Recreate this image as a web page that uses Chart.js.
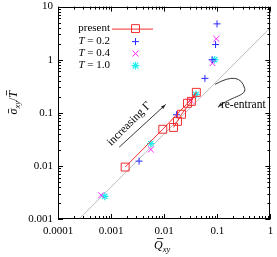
<!DOCTYPE html>
<html><head><meta charset="utf-8">
<script src="https://cdn.jsdelivr.net/npm/chart.js@4/dist/chart.umd.min.js"></script>
<style>html,body{margin:0;padding:0;background:#fff;}#wrap{width:277px;height:257px;}</style>
</head><body><div id="wrap"><canvas id="c" width="277" height="257"></canvas></div>
<script>
// ---- data ----
const seriesLabels = ['present', 'T = 0.2', 'T = 0.4', 'T = 1.0'];
const presentQ = [0.00184, 0.0094, 0.0274, 0.0403, 0.0325, 0.0212, 0.0178, 0.0150];
const presentS = [0.0095, 0.049, 0.151, 0.243, 0.164, 0.094, 0.069, 0.053];
const t02Q = [0.00336, 0.0171, 0.0585, 0.0798, 0.0927, 0.0989];
const t02S = [0.0123, 0.092, 0.445, 1.00, 1.93, 4.73];
const t04Q = [0.00065, 0.0056, 0.0316, 0.081, 0.096];
const t04S = [0.0028, 0.0204, 0.172, 0.861, 2.47];
const t10Q = [0.00076, 0.0056, 0.0397, 0.0895];
const t10S = [0.00267, 0.0264, 0.222, 1.00];
const refQ = [0.00025, 1];
const refS = [0.001, 4];
const xTicks = [0.0001, 0.001, 0.01, 0.1, 1];
const xTickLabels = ['0.0001', '0.001', '0.01', '0.1', '1'];
const yTicks = [0.001, 0.01, 0.1, 1, 10];
const yTickLabels = ['0.001', '0.01', '0.1', '1', '10'];
// annotation anchors in data space
const arrowGamma = [[0.00142, 0.0225], [0.0107, 0.144]];
const textGamma = {x: 0.00219, y: 0.0616, text: 'increasing Γ'};
const textReentrant = {x: 0.117, y: 0.138, text: 're-entrant'};
const reentrantCurve = [[0.0908, 0.343], [0.265, 0.629], [0.328, 0.288], [0.357, 0.204], [0.173, 0.204], [0.103, 0.127]];

const pts = (xs, ys) => xs.map((x, i) => ({x: x, y: ys[i]}));
const SERIF = '"Liberation Serif", "DejaVu Serif", serif';

const colors = {present: '#f03030', t02: '#2a2aff', t04: '#ff22ff', t10: '#22eeee'};

function arrowHead(ctx, x0, y0, x1, y1, len, half) {
  const a = Math.atan2(y1 - y0, x1 - x0);
  ctx.beginPath();
  ctx.moveTo(x1, y1);
  ctx.lineTo(x1 - len * Math.cos(a) + half * Math.sin(a), y1 - len * Math.sin(a) - half * Math.cos(a));
  ctx.lineTo(x1 - len * Math.cos(a) - half * Math.sin(a), y1 - len * Math.sin(a) + half * Math.cos(a));
  ctx.closePath();
  ctx.fill();
}

function drawParts(ctx, parts, x, y) {
  let w = 0;
  parts.forEach(p => { ctx.font = p.font; p.w = ctx.measureText(p.t).width; w += p.w; });
  let cx = x - w / 2;
  ctx.textBaseline = 'alphabetic';
  ctx.textAlign = 'left';
  parts.forEach(p => {
    ctx.font = p.font;
    ctx.fillText(p.t, cx, y + (p.dy || 0));
    if (p.bar) {
      ctx.beginPath();
      ctx.lineWidth = 0.8;
      ctx.moveTo(cx + p.w * 0.2 + (p.shift || 0), y - p.bar);
      ctx.lineTo(cx + p.w * 0.95 + (p.shift || 0), y - p.bar);
      ctx.stroke();
    }
    cx += p.w;
  });
}

const framePlugin = {
  id: 'frame',
  afterDatasetsDraw(chart) {
    const ctx = chart.ctx;
    const xs = chart.scales.x, ys = chart.scales.y;
    const a = chart.chartArea;
    ctx.save();
    ctx.strokeStyle = '#000';
    ctx.fillStyle = '#000';
    ctx.lineWidth = 1;
    ctx.strokeRect(Math.round(a.left) + 0.5, Math.round(a.top) + 0.5, Math.round(a.right - a.left) - 1, Math.round(a.bottom - a.top) - 1);
    ctx.beginPath();
    for (let d = Math.log10(xs.min); d < Math.log10(xs.max) + 0.01; d++) {
      for (let m = 1; m <= 9; m++) {
        const v = m * Math.pow(10, d);
        if (v > xs.max * 1.0001) break;
        const p = Math.round(xs.getPixelForValue(v)) + 0.5;
        const len = m === 1 ? 5 : 3;
        ctx.moveTo(p, a.bottom); ctx.lineTo(p, a.bottom - len);
        ctx.moveTo(p, a.top); ctx.lineTo(p, a.top + len);
      }
    }
    for (let d = Math.log10(ys.min); d < Math.log10(ys.max) + 0.01; d++) {
      for (let m = 1; m <= 9; m++) {
        const v = m * Math.pow(10, d);
        if (v > ys.max * 1.0001) break;
        const p = Math.round(ys.getPixelForValue(v)) + 0.5;
        const len = m === 1 ? 5 : 3;
        ctx.moveTo(a.left, p); ctx.lineTo(a.left + len, p);
        ctx.moveTo(a.right, p); ctx.lineTo(a.right - len, p);
      }
    }
    ctx.stroke();

    // increasing Gamma arrow
    const g0x = xs.getPixelForValue(arrowGamma[0][0]), g0y = ys.getPixelForValue(arrowGamma[0][1]);
    const g1x = xs.getPixelForValue(arrowGamma[1][0]), g1y = ys.getPixelForValue(arrowGamma[1][1]);
    ctx.strokeStyle = '#222'; ctx.fillStyle = '#222';
    ctx.lineWidth = 0.9;
    ctx.beginPath(); ctx.moveTo(g0x, g0y); ctx.lineTo(g1x, g1y); ctx.stroke();
    arrowHead(ctx, g0x, g0y, g1x, g1y, 5, 1.6);
    ctx.save();
    ctx.translate(xs.getPixelForValue(textGamma.x), ys.getPixelForValue(textGamma.y));
    ctx.rotate(-Math.PI / 4);
    ctx.font = '11.5px ' + SERIF;
    ctx.textAlign = 'center'; ctx.textBaseline = 'middle';
    ctx.fillStyle = '#000';
    ctx.fillText(textGamma.text, 0, 0);
    ctx.restore();

    // re-entrant curve
    const c = reentrantCurve.map(p => [xs.getPixelForValue(p[0]), ys.getPixelForValue(p[1])]);
    ctx.beginPath();
    ctx.moveTo(c[0][0], c[0][1]);
    ctx.quadraticCurveTo(c[1][0], c[1][1], c[2][0], c[2][1]);
    ctx.bezierCurveTo(c[3][0], c[3][1], c[4][0], c[4][1], c[5][0], c[5][1]);
    ctx.stroke();
    arrowHead(ctx, c[4][0], c[4][1], c[5][0], c[5][1], 5, 1.6);
    ctx.fillStyle = '#000';
    ctx.font = '11.5px ' + SERIF;
    ctx.textAlign = 'left'; ctx.textBaseline = 'middle';
    ctx.fillText(textReentrant.text, xs.getPixelForValue(textReentrant.x), ys.getPixelForValue(textReentrant.y));

    // legend
    const lx = a.left + 52, mx = a.left + 77.5;
    const rows = [a.top + 22, a.top + 35, a.top + 47, a.top + 59];
    chart.data.datasets.slice(0, 4).forEach((ds, i) => {
      const yy = rows[i];
      ctx.fillStyle = '#000';
      ctx.textBaseline = 'middle';
      ctx.textAlign = 'right';
      const label = ds.label;
      if (label.startsWith('T')) {
        ctx.font = '11px ' + SERIF;
        const rest = label.slice(1);
        const wr = ctx.measureText(rest).width;
        ctx.fillText(rest, lx, yy);
        ctx.font = 'italic 11px ' + SERIF;
        ctx.fillText('T', lx - wr, yy);
      } else {
        ctx.font = '11px ' + SERIF;
        ctx.fillText(label, lx, yy);
      }
      if (ds.showLine) {
        ctx.strokeStyle = ds.borderColor; ctx.lineWidth = 1;
        ctx.beginPath(); ctx.moveTo(a.left + 54, yy + 0.5); ctx.lineTo(a.left + 95, yy + 0.5); ctx.stroke();
      }
      ctx.strokeStyle = ds.pointBorderColor; ctx.fillStyle = 'rgba(0,0,0,0)';
      ctx.lineWidth = ds.pointBorderWidth;
      Chart.helpers.drawPoint(ctx, {pointStyle: ds.pointStyle, radius: ds.pointRadius, borderWidth: ds.pointBorderWidth, rotation: 0}, mx, yy);
    });

    // axis titles
    ctx.fillStyle = '#000'; ctx.strokeStyle = '#000';
    drawParts(ctx, [
      {t: 'Q', font: 'italic 12px ' + SERIF, bar: 10.5, shift: 1},
      {t: 'xy', font: 'italic 8.5px ' + SERIF, dy: 2.5}
    ], (a.left + a.right) / 2 - 2, 249);
    ctx.save();
    ctx.translate(13, (a.top + a.bottom) / 2 - 10);
    ctx.rotate(-Math.PI / 2);
    drawParts(ctx, [
      {t: 'σ', font: 'italic 12px ' + SERIF, bar: 8.5},
      {t: 'xy', font: 'italic 8.5px ' + SERIF, dy: 2.5},
      {t: '/', font: '12px ' + SERIF},
      {t: 'T', font: 'italic 12px ' + SERIF, bar: 10.5, shift: 1}
    ], 0, 4);
    ctx.restore();
    ctx.restore();
  }
};

function zeroPad(s) { s.paddingLeft = 0; s.paddingRight = 0; s.paddingTop = 0; s.paddingBottom = 0; }

new Chart(document.getElementById('c'), {
  type: 'scatter',
  data: {
    datasets: [
      {label: seriesLabels[0], data: pts(presentQ, presentS), showLine: true, borderColor: colors.present, borderWidth: 1,
       pointStyle: 'rect', pointRadius: 5.6, pointBorderColor: colors.present, pointBackgroundColor: 'rgba(0,0,0,0)', pointBorderWidth: 1, order: 1},
      {label: seriesLabels[1], data: pts(t02Q, t02S), showLine: false, pointStyle: 'cross', pointRadius: 3.5,
       pointBorderColor: colors.t02, pointBackgroundColor: colors.t02, pointBorderWidth: 1, order: 2},
      {label: seriesLabels[2], data: pts(t04Q, t04S), showLine: false, pointStyle: 'crossRot', pointRadius: 4.2,
       pointBorderColor: colors.t04, pointBackgroundColor: colors.t04, pointBorderWidth: 1, order: 3},
      {label: seriesLabels[3], data: pts(t10Q, t10S), showLine: false, pointStyle: 'star', pointRadius: 3.8,
       pointBorderColor: colors.t10, pointBackgroundColor: colors.t10, pointBorderWidth: 1.2, order: 4},
      {label: 'ref', data: pts(refQ, refS), showLine: true, borderColor: '#bdbdbd', borderWidth: 1, pointRadius: 0, order: 5}
    ]
  },
  options: {
    responsive: false, animation: false, devicePixelRatio: 1,
    layout: {padding: {top: 6, right: 4, left: 0, bottom: 0}},
    plugins: {legend: {display: false}, tooltip: {enabled: false}},
    scales: {
      x: {type: 'logarithmic', min: 0.0001, max: 1,
        afterFit: s => { s.height = 38; zeroPad(s); },
        afterBuildTicks: s => { s.ticks = xTicks.map(v => ({value: v})); },
        grid: {display: false, drawTicks: false}, border: {display: false},
        ticks: {autoSkip: false, maxRotation: 0, padding: 6, color: '#000',
          font: {family: SERIF, size: 11}, callback: (v, i) => xTickLabels[i]}},
      y: {type: 'logarithmic', min: 0.001, max: 10,
        afterFit: s => { s.width = 58; zeroPad(s); },
        afterBuildTicks: s => { s.ticks = yTicks.map(v => ({value: v})); },
        grid: {display: false, drawTicks: false}, border: {display: false},
        ticks: {autoSkip: false, padding: 5, color: '#000',
          font: {family: SERIF, size: 11}, callback: (v, i) => yTickLabels[i]}}
    }
  },
  plugins: [framePlugin]
});
</script></body></html>
